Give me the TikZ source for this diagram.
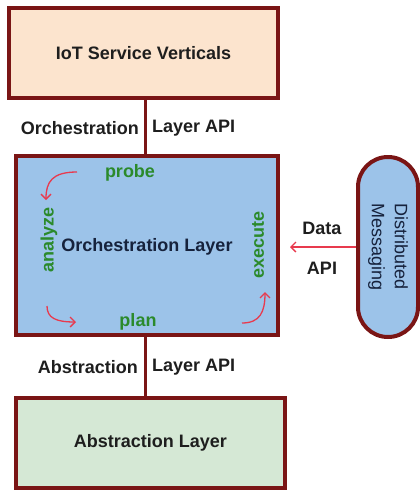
\documentclass[tikz,border=0pt]{standalone}
\usepackage{fontspec}
\setmainfont{Liberation Sans}
\usetikzlibrary{arrows.meta,calc}
\definecolor{brd}{HTML}{7A1515}
\definecolor{peach}{HTML}{FCE4CE}
\definecolor{lblue}{HTML}{9CC3E9}
\definecolor{lgreen}{HTML}{D5E8D5}
\definecolor{gtext}{HTML}{2B8A2B}
\definecolor{rarr}{HTML}{E83A4E}
\definecolor{navy}{HTML}{16223C}
\definecolor{dtext}{HTML}{1E1E1E}
\tikzset{
  layer/.style={draw=brd, line width=4pt, inner sep=0pt, font=\fontsize{18}{21}\selectfont\bfseries, text=dtext},
  lbl/.style={font=\fontsize{18}{21}\selectfont\bfseries, text=dtext, inner sep=0pt},
  phase/.style={font=\fontsize{18}{21}\selectfont\bfseries, text=gtext, inner sep=0pt},
  link/.style={draw=brd, line width=3pt},
  loop/.style={draw=rarr, line width=1.3pt, -{Straight Barb[length=5pt,width=10pt]}}
}
\begin{document}
\begin{tikzpicture}[x=1pt,y=-1pt]
\useasboundingbox (0,0) rectangle (420,491);
\node[layer, fill=peach, minimum width=269pt, minimum height=90pt] (top) at (143.5,53) {IoT Service Verticals};
\node[layer, fill=lblue, minimum width=262pt, minimum height=179pt] (mid) at (147,245.5) {};
\node[layer, fill=lgreen, minimum width=269pt, minimum height=90pt] (bot) at (150.5,443) {Abstraction Layer};
\node[draw=brd, line width=4pt, fill=lblue, rounded corners=30pt, minimum width=60pt, minimum height=180pt, inner sep=0pt] (dm) at (388,247) {};
\node[rotate=-90, align=center, font=\fontsize{18}{23}\selectfont, text=navy] (dmtext) at (dm.center) {Distributed\\Messaging};

\draw[link] ($(top.south)+(1.5,-2)$) -- ($(mid.north)+(-2,2)$);
\draw[link] ($(mid.south)+(-2,-2)$) -- ($(bot.north)+(-5.5,2)$);

\node[lbl, anchor=east] (oapi1) at (139,128) {Orchestration};
\node[lbl, anchor=west] (oapi2) at (152,128) {Layer API};
\node[lbl, anchor=east] (aapi1) at (138,367) {Abstraction};
\node[lbl, anchor=west] (aapi2) at (152,367) {Layer API};

\node[lbl, text=navy] (orch) at (147,247) {Orchestration Layer};
\node[phase] (probe) at (130,173) {probe};
\node[phase] (plan) at (138,322) {plan};
\node[phase, rotate=90] (analyze) at (49,240) {analyze};
\node[phase, rotate=90] (execute) at (258,245) {execute};

\coordinate (a1) at (77,172);
\coordinate (a2) at (46,200);
\coordinate (b1) at (47,306);
\coordinate (b2) at (76,322);
\coordinate (c1) at (242,323);
\coordinate (c2) at (265,292);
\draw[loop] (a1) .. controls (52,172) and (46,182) .. (a2);
\draw[loop] (b1) .. controls (47,318) and (56,322) .. (b2);
\draw[loop] (c1) .. controls (260,323) and (265,312) .. (c2);

\draw[draw=rarr, line width=1.3pt, -{Straight Barb[length=5pt,width=10pt]}, shorten >=10pt] (dm.west) -- (mid.east |- dm.west);
\node[lbl] (data) at (322,228) {Data};
\node[lbl] (api) at (322,268) {API};
\end{tikzpicture}
\end{document}
